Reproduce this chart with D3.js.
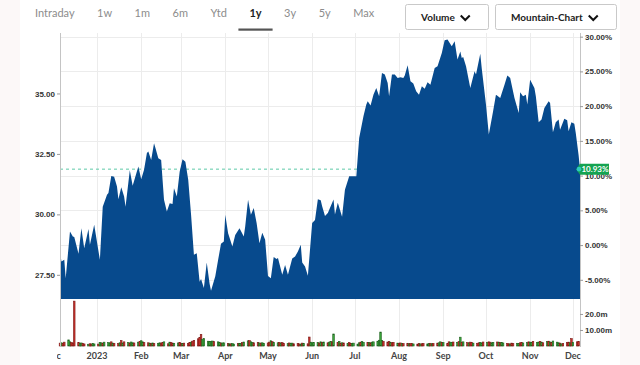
<html>
<head>
<meta charset="utf-8">
<title>1y Mountain Chart</title>
<script src="https://d3js.org/d3.v7.min.js"></script>
<style>
  body { margin: 0; background: #fcf8f8; }
  svg { display: block; font-family: Lato, "Open Sans", sans-serif; }
  .axis path.domain { display: none; }
  .axis line { stroke: #9a9a9a; }
  .axis text { fill: #333; font-size: 8px; font-weight: 700; }
  .xlab { fill: #444; font-size: 9px; font-weight: 700; }
  .grid { stroke: #ececec; stroke-width: 1; }
</style>
</head>
<body>
<svg id="chart" width="640" height="365"></svg>
<script>
// ---- data ----
const rangeButtons = ["Intraday", "1w", "1m", "6m", "Ytd", "1y", "3y", "5y", "Max"];
const activeRange = "1y";
const dropdowns = ["Volume", "Mountain-Chart"];

const priceDates = [
  "2022-12-06","2022-12-07","2022-12-09","2022-12-10","2022-12-13","2022-12-15","2022-12-16","2022-12-19","2022-12-21","2022-12-23","2022-12-26","2022-12-27","2022-12-30",
  "2023-01-03","2023-01-05","2023-01-08","2023-01-09","2023-01-11","2023-01-13","2023-01-15","2023-01-16","2023-01-18","2023-01-20","2023-01-21","2023-01-24","2023-01-26","2023-01-30",
  "2023-02-01","2023-02-03","2023-02-05","2023-02-06","2023-02-08","2023-02-10","2023-02-11","2023-02-13","2023-02-15","2023-02-17","2023-02-19","2023-02-21","2023-02-23","2023-02-24","2023-02-26","2023-02-28",
  "2023-03-02","2023-03-04","2023-03-06","2023-03-08","2023-03-10","2023-03-12","2023-03-14","2023-03-15","2023-03-17","2023-03-19","2023-03-21","2023-03-22","2023-03-25","2023-03-27","2023-03-29","2023-03-31",
  "2023-04-01","2023-04-03","2023-04-06","2023-04-08","2023-04-11","2023-04-14","2023-04-15","2023-04-17","2023-04-19","2023-04-21","2023-04-23","2023-04-25","2023-04-27","2023-04-29",
  "2023-05-01","2023-05-03","2023-05-05","2023-05-07","2023-05-08","2023-05-11","2023-05-13","2023-05-15","2023-05-18","2023-05-20","2023-05-22","2023-05-24","2023-05-25","2023-05-27","2023-05-29",
  "2023-06-01","2023-06-03","2023-06-05","2023-06-07","2023-06-08","2023-06-10","2023-06-12","2023-06-16","2023-06-17","2023-06-19","2023-06-22","2023-06-24","2023-06-27",
  "2023-07-02","2023-07-04","2023-07-07","2023-07-09","2023-07-10","2023-07-12","2023-07-14","2023-07-16","2023-07-18","2023-07-20","2023-07-22","2023-07-24","2023-07-25","2023-07-27","2023-07-29","2023-07-31",
  "2023-08-02","2023-08-04","2023-08-05","2023-08-07","2023-08-09","2023-08-11","2023-08-13","2023-08-15","2023-08-17","2023-08-19","2023-08-21","2023-08-23","2023-08-26","2023-08-28","2023-08-31",
  "2023-09-02","2023-09-04","2023-09-07","2023-09-09","2023-09-11","2023-09-13","2023-09-14","2023-09-15","2023-09-17","2023-09-20","2023-09-23","2023-09-24","2023-09-27","2023-09-28",
  "2023-10-01","2023-10-03","2023-10-06","2023-10-08","2023-10-09","2023-10-11","2023-10-14","2023-10-16","2023-10-18","2023-10-21","2023-10-24","2023-10-25","2023-10-27","2023-10-29","2023-10-30",
  "2023-11-01","2023-11-04","2023-11-05","2023-11-07","2023-11-09","2023-11-11","2023-11-14","2023-11-15","2023-11-17","2023-11-19","2023-11-21","2023-11-22","2023-11-25","2023-11-27","2023-11-28","2023-11-30",
  "2023-12-02","2023-12-03","2023-12-05","2023-12-06"
];
const closes = [
  28.46, 28.05, 28.12, 27.36, 29.29, 29.08, 29.06, 28.37, 29.43, 28.60, 29.39, 28.74, 29.57,
  28.12, 30.32, 30.81, 30.88, 31.59, 31.56, 31.15, 30.63, 31.12, 30.74, 30.32, 31.82, 31.18, 31.98,
  31.45, 31.84, 32.54, 32.60, 32.25, 32.94, 32.74, 32.32, 32.25, 30.60, 30.12, 30.46, 30.43, 31.08, 30.74, 31.76,
  32.28, 32.18, 31.43, 29.98, 28.33, 28.39, 27.21, 27.33, 26.95, 28.01, 27.13, 26.84, 27.44, 28.12, 28.78, 28.88,
  29.98, 29.22, 28.67, 29.15, 29.43, 29.08, 29.50, 30.60, 29.98, 30.26, 29.64, 28.81, 29.24, 28.95,
  27.45, 27.36, 28.24, 28.15, 28.20, 27.50, 27.91, 27.50, 28.17, 28.26, 28.46, 28.74, 28.01, 27.84, 27.46,
  29.64, 29.77, 30.63, 30.58, 30.34, 29.93, 30.06, 30.61, 29.99, 30.48, 29.90, 31.02, 31.58,
  31.58, 33.16, 34.06, 34.54, 34.68, 34.50, 34.95, 35.23, 34.88, 35.85, 35.78, 35.43, 34.88, 35.78, 35.78, 35.64,
  35.67, 35.64, 35.74, 36.17, 35.50, 35.41, 35.09, 34.95, 35.30, 35.19, 35.46, 35.36, 36.05, 36.12, 36.67,
  37.20, 37.23, 36.95, 37.16, 36.40, 36.74, 36.47, 36.51, 36.12, 35.23, 35.92, 35.78, 36.64, 36.05,
  34.54, 33.30, 34.26, 34.95, 34.91, 34.81, 35.36, 35.74, 35.64, 34.81, 34.19, 35.05, 34.88, 34.95, 34.54,
  35.57, 35.23, 34.88, 33.81, 33.92, 34.40, 34.68, 34.61, 33.40, 33.81, 33.92, 33.50, 33.95, 33.89, 33.44, 33.81,
  33.75, 33.37, 32.46, 31.87
];
const lastChangePct = 10.93;

// daily volume in millions, one value per weekday from 2022-12-06 to 2023-12-05
const volumes = [
  1.8, 2.0, 1.6, 2.4,
  3.8, 2.6, 2.2, 1.9, 28.0,   2.1, 1.7, 1.9, 1.6, 1.3,   1.1, 1.4, 1.2, 1.5, 1.3,
  1.2, 2.2, 2.0, 1.8, 2.4,    2.1, 1.9, 2.6, 1.8, 1.7,   1.6, 2.0, 3.4, 1.9, 2.6,
  2.2, 1.8, 2.5, 2.0, 1.9,    2.4, 2.9, 3.3, 2.6, 2.1,   2.0, 1.8, 1.6, 1.9, 1.5,
  1.7, 2.0, 1.8, 2.2, 2.6,    1.4, 2.4, 2.1, 1.8, 1.7,   1.9, 2.3, 1.7, 1.5, 1.8,
  1.6, 2.1, 2.4, 3.0, 3.5,    4.5, 5.2, 7.2, 4.0, 4.6,   3.0, 2.8, 2.9, 3.1, 2.7,
  2.6, 2.2, 1.8, 1.9, 2.0,    1.6, 1.4, 1.3, 1.5, 1.2,   1.5, 1.7, 1.6, 2.1, 2.5,
  3.2, 3.4, 2.6, 2.3, 2.0,    2.2, 1.9, 1.8, 2.0, 1.7,   1.9, 2.4, 3.3, 2.7, 2.2,
  2.0, 2.3, 1.8, 2.1, 1.6,    1.5, 1.9, 1.7, 1.8, 1.4,   1.6, 1.3, 1.2, 1.8, 1.5,
  1.4, 5.6, 2.4, 2.0, 2.2,    2.1, 1.9, 2.6, 2.3, 2.5,   2.0, 2.4, 2.8, 2.6, 7.5,
  2.2, 2.9, 1.8, 2.0, 1.9,    1.6, 2.1, 1.7, 1.5, 1.8,   1.2, 2.0, 2.4, 2.7, 2.3,
  2.1, 2.2, 2.0, 2.4, 2.6,    3.0, 3.6, 8.7, 3.4, 2.9,   2.5, 2.8, 2.2, 2.0, 2.3,
  1.8, 1.7, 1.9, 1.6, 1.5,    1.7, 1.4, 1.6, 1.5, 1.3,   1.2, 1.5, 1.3, 1.4, 1.6,
  1.3, 1.5, 1.7, 1.4, 1.6,    1.8, 2.0, 2.6, 2.3, 2.1,   1.5, 2.6, 2.4, 2.2, 2.5,
  2.3, 2.7, 5.5, 2.4, 2.6,    2.1, 1.9, 2.4, 2.2, 1.8,   1.7, 2.0, 2.3, 1.9, 2.5,
  2.2, 2.6, 2.4, 2.0, 2.3,    2.5, 2.4, 2.1, 2.2, 1.9,   1.6, 1.4, 1.3, 1.8, 1.5,
  1.7, 1.6, 2.0, 2.2, 1.9,    2.1, 2.6, 2.4, 2.2, 2.8,   2.3, 2.5, 2.9, 2.4, 2.0,
  2.7, 3.0, 2.5, 2.2, 3.1,    2.4, 2.0, 1.8, 1.3, 1.5,   2.1, 2.4, 2.0, 4.6, 2.3,
  2.6, 2.8
];
// u = up day (green bar), d = down day (red bar), grouped by week
const volumeDirection =
  "dudd uuddd duudd udduu duudu uudud dudud uduud uduud dudud uudd u duddu udd ud " +
  "ddudd dddu u uuuud uudu u dudu u duudu udu ud dudu u ddudu udu dd udu ud ddudu " +
  "ddu uu udu du duudu dudu d uddu u uud uu dud u u uu uu dd dudd u ddudd uddud " +
  "dudd u udu dd uudud duu du dudud udd ud duudu ddu ud udu ud dud du udd uu " +
  "duudu udu du dudu u udu dd dud ud dd";

const priceTicks = [27.5, 30, 32.5, 35];
const pctTicks = [-5, 0, 5, 10, 15, 20, 25, 30];
const volTicks = [10, 20];
const volTickLabels = ["10.00m", "20.0m"];

// ---- layout ----
const svg = d3.select("svg#chart");
const plot = { left: 60, right: 580, top: 33, bottom: 299 };
const volPanel = { top: 300, bottom: 346 };

const parse = d3.utcParse("%Y-%m-%d");
const prices = priceDates.map((d, i) => ({ date: parse(d), close: closes[i] }));
const startDate = parse("2022-12-06");
const endDate = parse("2023-12-06");

const volDays = d3.utcDays(startDate, endDate)
  .filter(d => d.getUTCDay() !== 0 && d.getUTCDay() !== 6);
const dirs = volumeDirection.replace(/\s/g, "").split("");
const volData = volDays.map((d, i) => ({ date: d, vol: volumes[i], up: dirs[i] === "u" }))
  .filter(d => d.vol !== undefined);

const x = d3.scaleUtc().domain([startDate, endDate]).range([plot.left, plot.right]);
const yPrice = d3.scaleLinear().domain([26.5, 37.5]).range([plot.bottom, plot.top]);
const lastClose = closes[closes.length - 1];
const basePrice = lastClose / (1 + lastChangePct / 100);
const yPct = d3.scaleLinear()
  .domain([(26.5 / basePrice - 1) * 100, (37.5 / basePrice - 1) * 100])
  .range([plot.bottom, plot.top]);
const yVol = d3.scaleLinear().domain([0, 28.7]).range([volPanel.bottom, volPanel.top]);

// white page panel
svg.append("rect").attr("x", 20).attr("y", 0).attr("width", 600).attr("height", 365).attr("fill", "#fff");

// ---- range buttons ----
const nav = svg.append("g").attr("class", "nav");
let cursor = 35;
rangeButtons.forEach(label => {
  const active = label === activeRange;
  const t = nav.append("text")
    .attr("x", cursor).attr("y", 17)
    .attr("font-size", 11)
    .attr("font-weight", active ? 700 : 400)
    .attr("fill", active ? "#222" : "#8c8c8c")
    .text(label);
  const w = t.node().getComputedTextLength();
  if (active) {
    nav.append("rect").attr("x", cursor - 11).attr("y", 28.5)
      .attr("width", w + 22).attr("height", 2.2).attr("fill", "#555");
  }
  cursor += w + 22.5;
});

// ---- dropdown boxes ----
const boxes = [{ x: 405, w: 83 }, { x: 495, w: 121 }];
dropdowns.forEach((label, i) => {
  const b = boxes[i];
  const g = svg.append("g");
  g.append("rect").attr("x", b.x + 0.5).attr("y", 4.5).attr("width", b.w).attr("height", 25)
    .attr("rx", 2).attr("fill", "#fff").attr("stroke", "#c9c9c9");
  const t = g.append("text").attr("x", b.x + 16).attr("y", 20.5)
    .attr("font-size", 10).attr("font-weight", 700).attr("fill", "#222").text(label);
  const cx = b.x + 16 + t.node().getComputedTextLength() + 6;
  g.append("path").attr("d", `M${cx},15.5 L${cx + 4.5},20 L${cx + 9},15.5`)
    .attr("fill", "none").attr("stroke", "#111").attr("stroke-width", 2);
});

// ---- gridlines ----
const months = d3.utcMonths(startDate, endDate);
svg.append("g").selectAll("line.v").data(months).join("line")
  .attr("class", "grid")
  .attr("x1", d => Math.round(x(d)) + 0.5).attr("x2", d => Math.round(x(d)) + 0.5)
  .attr("y1", plot.top).attr("y2", volPanel.bottom);
svg.append("g").selectAll("line.h").data(pctTicks).join("line")
  .attr("class", "grid")
  .attr("x1", plot.left).attr("x2", plot.right)
  .attr("y1", d => Math.round(yPct(d)) + 0.5).attr("y2", d => Math.round(yPct(d)) + 0.5);

// last price dashed line (sits behind the mountain)
const lastY = yPrice(lastClose);
svg.append("line")
  .attr("x1", plot.left).attr("x2", plot.right)
  .attr("y1", lastY).attr("y2", lastY)
  .attr("stroke", "#5cc9a7").attr("stroke-width", 1).attr("stroke-dasharray", "3,3");

// ---- mountain area ----
const area = d3.area()
  .x(d => x(d.date))
  .y0(plot.bottom)
  .y1(d => yPrice(d.close));
svg.append("path").datum(prices)
  .attr("d", area)
  .attr("fill", "#074a8d");

// ---- volume bars ----
svg.append("g").selectAll("rect").data(volData).join("rect")
  .attr("x", d => x(d.date) - 0.8)
  .attr("width", 1.6)
  .attr("y", d => yVol(d.vol))
  .attr("height", d => yVol(0) - yVol(d.vol))
  .attr("fill", d => d.up ? "#3aa63a" : "#cc302b")
  .attr("stroke", d => d.up ? "#1e5f1e" : "#7a1a16")
  .attr("stroke-width", 0.6);

// ---- axis frame lines ----
svg.append("line").attr("x1", plot.left + 0.5).attr("x2", plot.left + 0.5)
  .attr("y1", plot.top).attr("y2", volPanel.bottom + 1).attr("stroke", "#c4c4c4");
svg.append("line").attr("x1", plot.right + 0.5).attr("x2", plot.right + 0.5)
  .attr("y1", plot.top).attr("y2", volPanel.bottom + 1).attr("stroke", "#c4c4c4");

// ---- axes ----
svg.append("g").attr("class", "axis")
  .attr("transform", `translate(${plot.left},0)`)
  .call(d3.axisLeft(yPrice).tickValues(priceTicks).tickSize(3).tickPadding(2)
    .tickFormat(d3.format(".2f")));

svg.append("g").attr("class", "axis")
  .attr("transform", `translate(${plot.right},0)`)
  .call(d3.axisRight(yPct).tickValues(pctTicks).tickSize(3).tickPadding(2)
    .tickFormat(d => d.toFixed(2) + "%"));

svg.append("g").attr("class", "axis")
  .attr("transform", `translate(${plot.right},0)`)
  .call(d3.axisRight(yVol).tickValues(volTicks).tickSize(3).tickPadding(2)
    .tickFormat((d, i) => volTickLabels[i]));

// month labels, clipped at the left edge like the reference
svg.append("clipPath").attr("id", "xclip")
  .append("rect").attr("x", 57).attr("y", 340).attr("width", 540).attr("height", 25);
const labelMonths = d3.utcMonths(d3.utcMonth.floor(startDate), endDate);
svg.append("g").attr("clip-path", "url(#xclip)")
  .selectAll("text").data(labelMonths).join("text")
  .attr("class", "xlab")
  .attr("x", d => x(d)).attr("y", 358.5)
  .attr("text-anchor", "middle")
  .text(d => d.getUTCMonth() === 0 ? d.getUTCFullYear() : d3.utcFormat("%b")(d));

// ---- last change badge (covers the top of the 10.00% tick, as in the reference) ----
svg.append("path")
  .attr("d", `M576,${lastY} L580,${lastY - 5.5} L609,${lastY - 5.5} L609,${lastY + 5.5} L580,${lastY + 5.5} Z`)
  .attr("fill", "#14a351");
svg.append("circle").attr("cx", 579).attr("cy", lastY).attr("r", 2.3).attr("fill", "#2cc8c0");
svg.append("text").attr("x", 595).attr("y", lastY + 3)
  .attr("text-anchor", "middle").attr("font-size", 8).attr("font-weight", 700)
  .attr("fill", "#fff").text(lastChangePct.toFixed(2) + "%");
</script>
</body>
</html>
